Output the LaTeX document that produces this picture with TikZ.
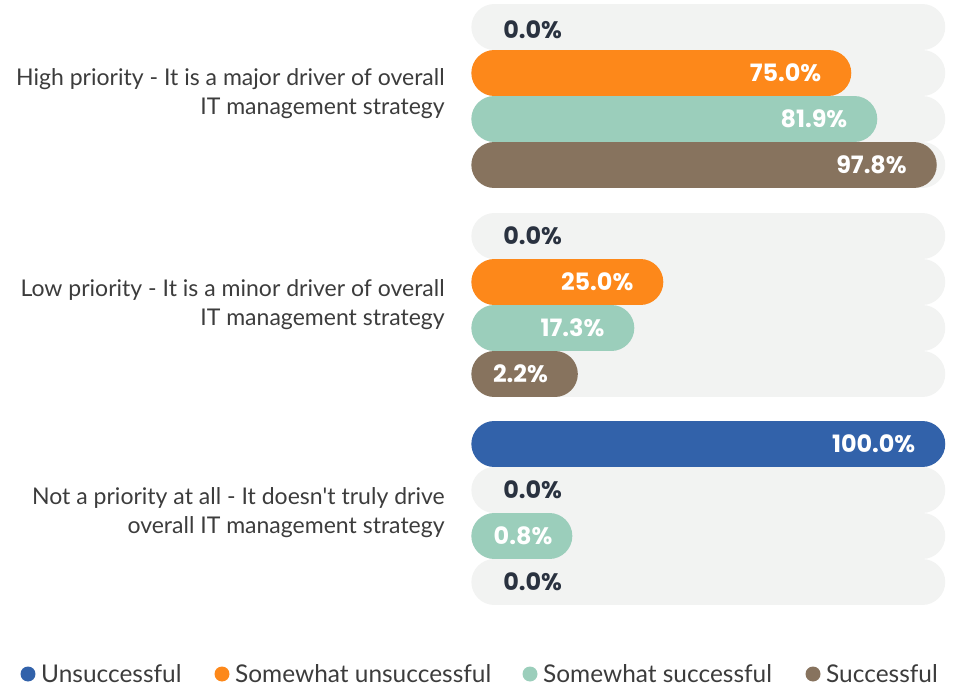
\documentclass[tikz,border=0pt]{standalone}
\usepackage{fontspec}
\setmainfont{Lato}
\newfontfamily\valuefont{Poppins}
\usetikzlibrary{positioning}
\definecolor{bar_blue}{RGB}{50, 98, 170}
\definecolor{bar_orange}{RGB}{253, 136, 26}
\definecolor{bar_teal}{RGB}{155, 206, 187}
\definecolor{bar_brown}{RGB}{135, 115, 94}
\definecolor{track_gray}{RGB}{242, 243, 242}
\definecolor{value_dark}{RGB}{42, 50, 64}
\definecolor{label_gray}{RGB}{60, 60, 60}

\begin{document}
\begin{tikzpicture}[
    x=0.02cm, y=-0.02cm,
    track/.style={
        rectangle,
        fill=track_gray,
        minimum width=9.48cm,
        minimum height=0.92cm,
        rounded corners=0.46cm,
        inner sep=0pt,
        anchor=west
    },
    bar/.style={
        rectangle,
        fill=#1,
        minimum height=0.92cm,
        rounded corners=0.46cm,
        inner sep=0pt,
        anchor=west
    },
    value/.style={
        text=white,
        inner sep=0pt,
        anchor=east,
        font=\valuefont\bfseries\fontsize{13.6}{15}\selectfont
    },
    zero/.style={
        text=value_dark,
        inner sep=0pt,
        anchor=west,
        font=\valuefont\bfseries\fontsize{13.6}{15}\selectfont
    },
    category/.style={
        text=label_gray,
        align=right,
        anchor=east,
        inner sep=0pt,
        font=\fontsize{13.1}{16.4}\selectfont
    },
    dot/.style={
        circle,
        fill=#1,
        minimum size=0.3cm,
        inner sep=0pt
    },
    legend/.style={
        text=label_gray,
        inner sep=0pt,
        font=\fontsize{13.9}{15}\selectfont
    }
]
\useasboundingbox (0,0) rectangle (961,686);

% Tracks
\node[track] (t1a) at (471,27) {};
\node[track] (t1b) at (471,73) {};
\node[track] (t1c) at (471,119) {};
\node[track] (t1d) at (471,165) {};
\node[track] (t2a) at (471,236) {};
\node[track] (t2b) at (471,282) {};
\node[track] (t2c) at (471,328) {};
\node[track] (t2d) at (471,374) {};
\node[track] (t3a) at (471,444) {};
\node[track] (t3b) at (471,490) {};
\node[track] (t3c) at (471,536) {};
\node[track] (t3d) at (471,582) {};

% High priority bars
\node[bar=bar_orange, minimum width=7.60cm] (b1b) at (t1b.west) {};
\node[bar=bar_teal, minimum width=8.12cm] (b1c) at (t1c.west) {};
\node[bar=bar_brown, minimum width=9.31cm] (b1d) at (t1d.west) {};

% Low priority bars
\node[bar=bar_orange, minimum width=3.84cm] (b2b) at (t2b.west) {};
\node[bar=bar_teal, minimum width=3.26cm] (b2c) at (t2c.west) {};
\node[bar=bar_brown, minimum width=2.13cm] (b2d) at (t2d.west) {};

% Not a priority bars
\node[bar=bar_blue, minimum width=9.48cm] (b3a) at (t3a.west) {};
\node[bar=bar_teal, minimum width=2.02cm] (b3c) at (t3c.west) {};

% Values
\node[zero] (v1a) at ([xshift=0.64cm,yshift=-0.06cm]t1a.west) {0.0\%};
\node[value] (v1b) at ([xshift=-0.6cm]b1b.east) {75.0\%};
\node[value] (v1c) at ([xshift=-0.6cm]b1c.east) {81.9\%};
\node[value] (v1d) at ([xshift=-0.6cm]b1d.east) {97.8\%};
\node[zero] (v2a) at ([xshift=0.64cm]t2a.west) {0.0\%};
\node[value] (v2b) at ([xshift=-0.6cm]b2b.east) {25.0\%};
\node[value] (v2c) at ([xshift=-0.6cm]b2c.east) {17.3\%};
\node[value] (v2d) at ([xshift=-0.6cm]b2d.east) {2.2\%};
\node[value] (v3a) at ([xshift=-0.6cm]b3a.east) {100.0\%};
\node[zero] (v3b) at ([xshift=0.64cm]t3b.west) {0.0\%};
\node[value] (v3c) at ([xshift=-0.4cm]b3c.east) {0.8\%};
\node[zero] (v3d) at ([xshift=0.64cm]t3d.west) {0.0\%};

% Category labels
\node[category] (c1) at (445,94) {High priority - It is a major driver of overall\\IT management strategy};
\node[category] (c2) at (445,305) {Low priority - It is a minor driver of overall\\IT management strategy};
\node[category] (c3) at (445,513) {Not a priority at all - It doesn\textquotesingle t truly drive\\overall IT management strategy};

% Legend
\node[dot=bar_blue] (d1) at (28,674) {};
\node[legend, right=0.1cm of d1] (l1) {Unsuccessful};
\node[dot=bar_orange] (d2) at (222,674) {};
\node[legend, right=0.1cm of d2] (l2) {Somewhat unsuccessful};
\node[dot=bar_teal] (d3) at (530,674) {};
\node[legend, right=0.1cm of d3] (l3) {Somewhat successful};
\node[dot=bar_brown] (d4) at (813,674) {};
\node[legend, right=0.1cm of d4] (l4) {Successful};

\end{tikzpicture}
\end{document}
